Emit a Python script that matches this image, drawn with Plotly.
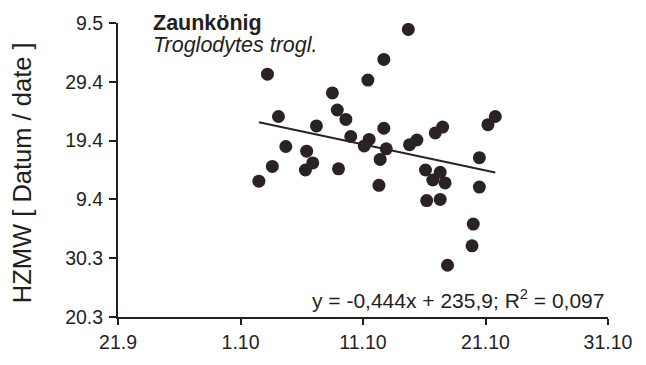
import plotly.graph_objects as go

# Day-of-year values (leap-year count): x = autumn passage date, y = HZMW date
x_days = [288.7, 286.7, 277.2, 285.4, 282.5, 278.1, 282.9, 283.6, 281.2, 286.7,
          295.8, 295.2, 291.5, 290.9, 284.0, 285.5, 285.1, 286.9, 289.4, 288.8,
          278.7, 280.4, 280.9, 280.3, 277.6, 283.0, 286.4, 294.5, 290.1, 291.3,
          276.5, 286.3, 290.7, 291.7, 294.5, 290.2, 291.3, 294.0, 293.9, 291.9]
y_days = [128.9, 123.8, 121.3, 120.3, 118.1, 114.1, 115.2, 113.6, 112.5, 112.1,
          114.1, 112.7, 112.3, 111.3, 110.7, 110.2, 109.1, 108.6, 110.1, 109.3,
          109.0, 108.2, 106.2, 105.0, 105.6, 105.2, 106.8, 107.1, 105.0, 104.6,
          103.1, 102.4, 103.3, 102.8, 102.1, 99.8, 100.0, 95.8, 92.1, 88.8]

# Linear trend as reported
slope = -0.444
intercept = 235.9

x_tick_vals = [265, 275, 285, 295, 305]
x_tick_text = ["21.9", "1.10", "11.10", "21.10", "31.10"]
y_tick_vals = [80, 90, 100, 110, 120, 130]
y_tick_text = ["20.3", "30.3", "9.4", "19.4", "29.4", "9.5"]

ink = "#2b2228"
text_col = "#231f20"
font = "Liberation Sans"

x_line = [min(x_days), max(x_days)]
y_line = [slope * v + intercept for v in x_line]

fig = go.Figure()
fig.add_trace(go.Scatter(x=x_line, y=y_line, mode="lines",
                         line=dict(color=ink, width=2), hoverinfo="skip"))
fig.add_trace(go.Scatter(x=x_days, y=y_days, mode="markers",
                         marker=dict(color=ink, size=13, line=dict(width=0))))

axis_common = dict(showline=True, linecolor=text_col, linewidth=2,
                   ticks="outside", tickcolor=text_col, tickwidth=2,
                   showgrid=False, zeroline=False,
                   tickfont=dict(family=font, size=19.5, color=text_col))

fig.update_xaxes(range=[265, 305], tickvals=x_tick_vals, ticktext=x_tick_text,
                 ticklen=6, ticklabelstandoff=1, **axis_common)
fig.update_yaxes(range=[80, 130], tickvals=y_tick_vals, ticktext=y_tick_text,
                 ticklen=7, ticklabelstandoff=2, **axis_common)

fig.add_annotation(text="<b>Zaunkönig</b>", xref="paper", yref="paper",
                   x=0.068, y=1.0, xanchor="left", yanchor="middle", showarrow=False,
                   font=dict(family=font, size=21.5, color=text_col))
fig.add_annotation(text="<i>Troglodytes trogl.</i>", xref="paper", yref="paper",
                   x=0.068, y=0.925, xanchor="left", yanchor="middle", showarrow=False,
                   font=dict(family=font, size=21.5, color=text_col))
fig.add_annotation(text="y = -0,444x + 235,9; R<sup>2</sup> = 0,097",
                   xref="paper", yref="paper", x=0.9965, y=0.062,
                   xanchor="right", yanchor="middle", showarrow=False,
                   font=dict(family=font, size=21, color=text_col))
fig.add_annotation(text="HZMW [ Datum / date ]", xref="paper", yref="paper",
                   x=-0.1955, y=0.49, xanchor="center", yanchor="middle",
                   textangle=-90, showarrow=False,
                   font=dict(family=font, size=25.5, color=text_col))

fig.update_layout(width=646, height=365, showlegend=False,
                  margin=dict(l=118, r=38, t=22, b=44),
                  plot_bgcolor="white", paper_bgcolor="white")

fig.write_html("out.html")
